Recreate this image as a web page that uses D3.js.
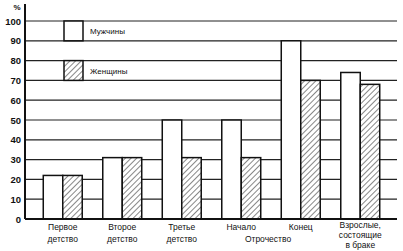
<!DOCTYPE html>
<html><head><meta charset="utf-8">
<script src="https://cdn.jsdelivr.net/npm/d3@7"></script>
<style>
html,body{margin:0;padding:0;background:#fff;}
svg{display:block;font-family:"Liberation Sans",Arial,sans-serif;}
</style></head>
<body><svg id="c" width="403" height="251"></svg>
<script>
const categories = [
  ["Первое", "детство"],
  ["Второе", "детство"],
  ["Третье", "детство"],
  ["Начало"],
  ["Конец"],
  ["Взрослые,", "состоящие", "в браке"]
];
const sharedLabel = "Отрочество"; // shared by "Начало" and "Конец"
const men = [22, 31, 50, 50, 90, 74];
const women = [22, 31, 31, 31, 70, 68];
const seriesNames = ["Мужчины", "Женщины"];
const yTicks = [0, 10, 20, 30, 40, 50, 60, 70, 80, 90, 100];
const unitLabel = "%";

const svg = d3.select("#c");
const defs = svg.append("defs");
const pat = defs.append("pattern").attr("id", "hatch").attr("patternUnits", "userSpaceOnUse")
  .attr("width", 4).attr("height", 4).attr("patternTransform", "rotate(45)");
pat.append("rect").attr("width", 4).attr("height", 4).attr("fill", "#fff");
pat.append("line").attr("x1", 0).attr("y1", 0).attr("x2", 0).attr("y2", 4)
  .attr("stroke", "#111").attr("stroke-width", 1);

const y = d3.scaleLinear().domain([0, 100]).range([219, 21]);
const idx = d3.range(categories.length);
const x = d3.scaleBand().domain(idx).range([33, 390]).paddingInner(0.345).paddingOuter(0.1725);
const xs = d3.scaleBand().domain([0, 1]).range([0, x.bandwidth()]);
const axisX = 25, gridRight = 397;

// gridlines
svg.append("g").selectAll("line").data(yTicks.filter(d => d > 0)).join("line")
  .attr("x1", axisX).attr("x2", gridRight)
  .attr("y1", d => y(d)).attr("y2", d => y(d))
  .attr("stroke", "#222").attr("stroke-width", 1.2);

// y axis
const yAxis = d3.axisLeft(y).tickValues(yTicks).tickSize(0).tickPadding(4);
const ga = svg.append("g").attr("transform", `translate(${axisX},0)`).call(yAxis);
ga.select(".domain").remove();
ga.selectAll("text").attr("font-size", 9.5).attr("font-weight", "bold").attr("fill", "#111")
  .attr("font-family", "Liberation Sans, Arial, sans-serif");
svg.append("line").attr("x1", axisX).attr("x2", axisX).attr("y1", 4).attr("y2", y(0))
  .attr("stroke", "#111").attr("stroke-width", 2);
svg.append("text").attr("x", 17).attr("y", 10).attr("text-anchor", "middle")
  .attr("font-size", 8).attr("font-weight", "bold").attr("fill", "#111").text(unitLabel);

// bars
const series = [men, women];
const fills = ["#fff", "url(#hatch)"];
series.forEach((vals, s) => {
  svg.append("g").selectAll("rect").data(vals).join("rect")
    .attr("x", (d, i) => x(i) + xs(s))
    .attr("y", d => y(d))
    .attr("width", xs.bandwidth())
    .attr("height", d => y(0) - y(d))
    .attr("fill", fills[s]).attr("stroke", "#111").attr("stroke-width", 1.5);
});

// baseline
svg.append("line").attr("x1", axisX).attr("x2", gridRight).attr("y1", y(0)).attr("y2", y(0))
  .attr("stroke", "#111").attr("stroke-width", 2);

// legend
const legX = 64, legW = 19;
const legTop = [100, 80];
seriesNames.forEach((n, s) => {
  svg.append("rect").attr("x", legX).attr("y", y(legTop[s]))
    .attr("width", legW).attr("height", y(legTop[s] - 10) - y(legTop[s]))
    .attr("fill", fills[s]).attr("stroke", "#111").attr("stroke-width", 1.5);
  svg.append("text").attr("x", legX + legW + 7).attr("y", y(legTop[s] - 5) + 3)
    .attr("font-size", 8).attr("fill", "#111").text(n);
});

// category labels
categories.forEach((lines, i) => {
  const cx = x(i) + x.bandwidth() / 2;
  const lh = lines.length > 2 ? 10 : 12;
  const t = svg.append("text").attr("text-anchor", "middle").attr("font-size", 8.5).attr("fill", "#111");
  lines.forEach((l, k) => {
    t.append("tspan").attr("x", cx).attr("y", (lines.length > 2 ? 228 : 230) + k * lh).text(l);
  });
});
const sx = (x(3) + x(4) + x.bandwidth()) / 2 - 3;
svg.append("text").attr("text-anchor", "middle").attr("font-size", 8.5).attr("fill", "#111")
  .attr("x", sx).attr("y", 242).text(sharedLabel);
</script></body></html>
